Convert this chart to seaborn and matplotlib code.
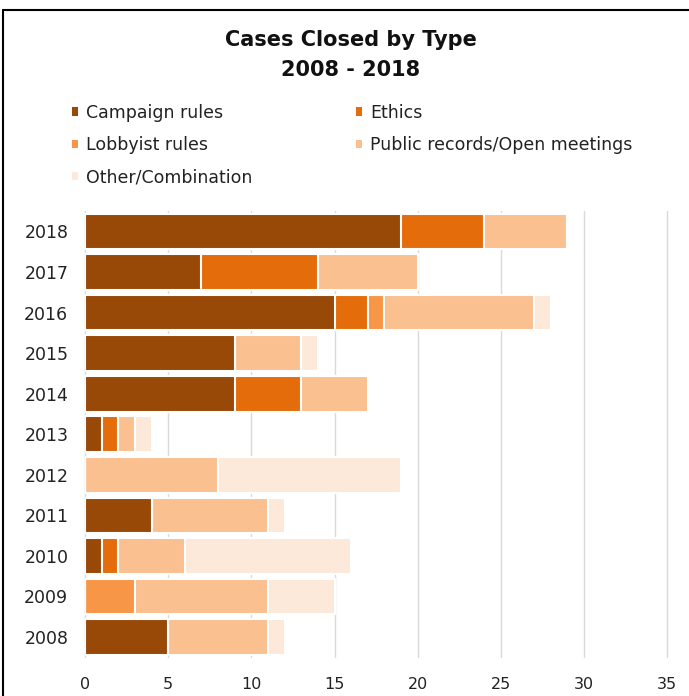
import matplotlib
matplotlib.use("Agg")
import matplotlib.pyplot as plt
import seaborn as sns
import pandas as pd
import numpy as np
from matplotlib.patches import Patch
from matplotlib.lines import Line2D

years = ["2018", "2017", "2016", "2015", "2014", "2013", "2012", "2011", "2010", "2009", "2008"]
campaign = [19, 7, 15, 9, 9, 1, 0, 4, 1, 0, 5]
ethics = [5, 7, 2, 0, 4, 1, 0, 0, 1, 0, 0]
lobbyist = [0, 0, 1, 0, 0, 0, 0, 0, 0, 3, 0]
public = [5, 6, 9, 4, 4, 1, 8, 7, 4, 8, 6]
other = [0, 0, 1, 1, 0, 1, 11, 1, 10, 4, 1]

series_names = ["Campaign rules", "Ethics", "Lobbyist rules",
                "Public records/Open meetings", "Other/Combination"]
colors = ["#984807", "#E46C0A", "#F79646", "#FAC090", "#FDE9D9"]
x_ticks = [0, 5, 10, 15, 20, 25, 30, 35]

sns.set_theme(style="white")
plt.rcParams['font.family'] = ['DejaVu Sans']

df = pd.DataFrame({"year": years, "c": campaign, "e": ethics, "l": lobbyist,
                   "p": public, "o": other})
series = [df["c"], df["e"], df["l"], df["p"], df["o"]]
cum = np.cumsum(np.array(series), axis=0)

fig = plt.figure(figsize=(6.89, 6.96), dpi=100)
ax = fig.add_axes([0.1234, 0.0556, 0.845, 0.641])

for i in range(4, -1, -1):
    d = pd.DataFrame({"year": years, "val": cum[i]})
    sns.barplot(data=d, x="val", y="year", order=years, orient="h",
                color=colors[i], saturation=1, width=0.88,
                edgecolor="white", linewidth=1.5, ax=ax, zorder=3)

ax.set_xlim(0, 35)
ax.set_xticks(x_ticks)
ax.set_xticklabels([str(t) for t in x_ticks], fontsize=11.5, color="#222222")
ax.tick_params(axis="y", labelsize=12.5, colors="#222222", length=0, pad=12)
ax.tick_params(axis="x", length=0, pad=14)
ax.set_xlabel("")
ax.set_ylabel("")
ax.xaxis.grid(True, color="#d9d9d9", linewidth=1, zorder=0)
for gl in ax.get_xgridlines():
    gl.set_clip_on(False)
ax.yaxis.grid(False)
ax.set_axisbelow(True)
for s in ax.spines.values():
    s.set_visible(False)

fig.text(0.509, 0.942, "Cases Closed by Type", ha="center", va="center",
         fontsize=15, color="#111111", fontweight="bold")
fig.text(0.509, 0.899, "2008 - 2018", ha="center", va="center",
         fontsize=15, color="#111111", fontweight="bold")

handles = [Patch(facecolor=colors[k], edgecolor="none") for k in [0, 2, 4, 1, 3]]
labels = [series_names[k] for k in [0, 2, 4, 1, 3]]
fig.legend(handles, labels, ncol=2, loc="upper left", bbox_to_anchor=(0.104, 0.851),
           frameon=False, fontsize=12.5, handlelength=0.35, handleheight=0.35,
           handletextpad=0.45, columnspacing=6.0, labelspacing=0.82,
           borderpad=0, borderaxespad=0, labelcolor="#222222")

fig.add_artist(Line2D([3/689, 3/689], [0, 1 - 10/696], transform=fig.transFigure,
                      color="black", linewidth=1.5))
fig.add_artist(Line2D([3/689, 1], [1 - 10/696, 1 - 10/696], transform=fig.transFigure,
                      color="black", linewidth=1.5))

fig.savefig("out.png", dpi=100, facecolor="white")
